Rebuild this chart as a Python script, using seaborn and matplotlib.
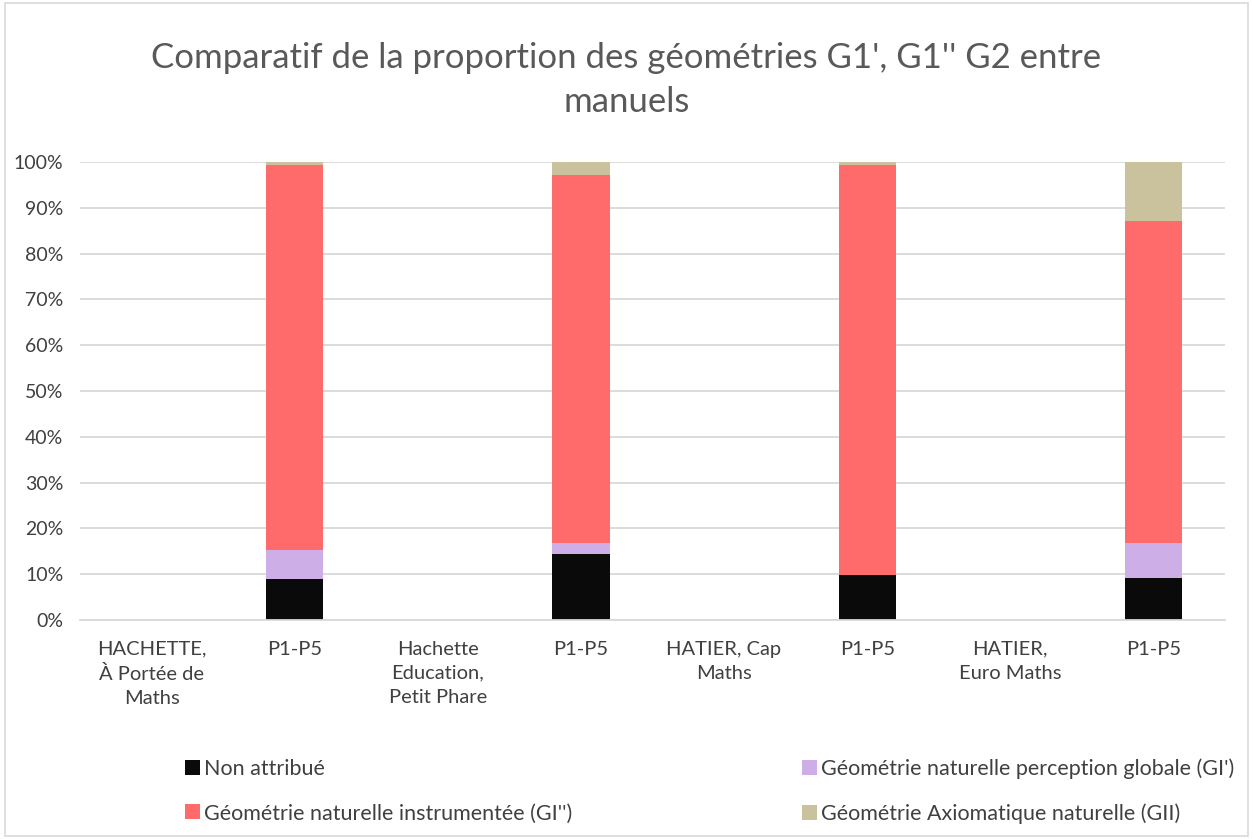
import numpy as np
import matplotlib.pyplot as plt
import seaborn as sns
import pandas as pd
from matplotlib.patches import Patch

# categories on the x axis (manual names are empty slots)
categories = ["HACHETTE,\nÀ Portée de\nMaths", "P1-P5 ",
              "Hachette\nEducation,\nPetit Phare", "P1-P5  ",
              "HATIER, Cap\nMaths", "P1-P5   ",
              "HATIER,\nEuro Maths", "P1-P5    "]

# shares per category (fractions), NaN where no bar
non_attribue = [np.nan, 0.090, np.nan, 0.144, np.nan, 0.098, np.nan, 0.092]
perception = [np.nan, 0.063, np.nan, 0.024, np.nan, 0.000, np.nan, 0.076]
instrumentee = [np.nan, 0.840, np.nan, 0.804, np.nan, 0.895, np.nan, 0.703]
axiomatique = [np.nan, 0.007, np.nan, 0.028, np.nan, 0.007, np.nan, 0.129]

series_names = ["Non attribué",
                "Géométrie naturelle perception globale (GI')",
                "Géométrie naturelle instrumentée (GI'')",
                "Géométrie Axiomatique naturelle (GII)"]
colors = ["#0a0a0a", "#cdaee6", "#ff6b6b", "#c9c29d"]

sns.set_style("white")
plt.rcParams['font.family'] = ['Lato', 'DejaVu Sans']

df = pd.DataFrame({"cat": categories,
                   "s0": non_attribue, "s1": perception,
                   "s2": instrumentee, "s3": axiomatique})
cum = df[["s0", "s1", "s2", "s3"]].cumsum(axis=1)

fig = plt.figure(figsize=(12.53, 8.39), dpi=100)
ax = fig.add_axes([80 / 1253, 1 - 620 / 839, 1145 / 1253, 458 / 839])

# draw cumulative bars from the top series down so they stack
for i in [3, 2, 1, 0]:
    sns.barplot(x=df["cat"], y=cum[f"s{i}"], order=categories,
                color=colors[i], width=0.4, saturation=1, ax=ax,
                edgecolor="none", linewidth=0)

ax.set_ylim(0, 1)
ax.set_yticks(np.arange(0, 1.01, 0.1))
ax.set_yticklabels([f"{int(round(v * 100))}%" for v in np.arange(0, 1.01, 0.1)],
                   fontsize=14, color="#404040")
ax.set_xticks(range(len(categories)))
ax.set_xticklabels([c.strip() for c in categories], fontsize=14.5,
                   color="#404040", va="top", linespacing=1.5)
ax.tick_params(axis="y", length=0, pad=12)
ax.tick_params(axis="x", length=0, pad=15)
ax.set_xlabel("")
ax.set_ylabel("")
ax.set_axisbelow(True)
ax.grid(axis="y", color="#d9d9d9", linewidth=1.3)
for s in ["top", "right", "left"]:
    ax.spines[s].set_visible(False)
ax.spines["bottom"].set_color("#d9d9d9")
ax.spines["bottom"].set_linewidth(1.3)
ax.set_xlim(-0.5, len(categories) - 0.5)

fig.text(0.5, 1 - 80 / 839, "Comparatif de la proportion des géométries G1', G1'' G2 entre\nmanuels",
         ha="center", va="center", fontsize=25, color="#595959", linespacing=1.45)

order = [0, 2, 1, 3]
handles = [Patch(facecolor=colors[i], edgecolor="none") for i in order]
labels = [series_names[i] for i in order]
fig.legend(handles, labels, ncol=2, loc="center left",
           bbox_to_anchor=(166 / 1253, 1 - 791 / 839),
           frameon=False, fontsize=15.5, handlelength=0.7, handleheight=0.7,
           handletextpad=0.15, columnspacing=10.7, labelspacing=1.15,
           labelcolor="#404040")

# light border around the chart area
fig.patches.append(plt.Rectangle((0.004, 0.004), 0.992, 0.992, transform=fig.transFigure,
                                 fill=False, edgecolor="#d9d9d9", linewidth=1.2))

fig.savefig("out.png", dpi=100)
